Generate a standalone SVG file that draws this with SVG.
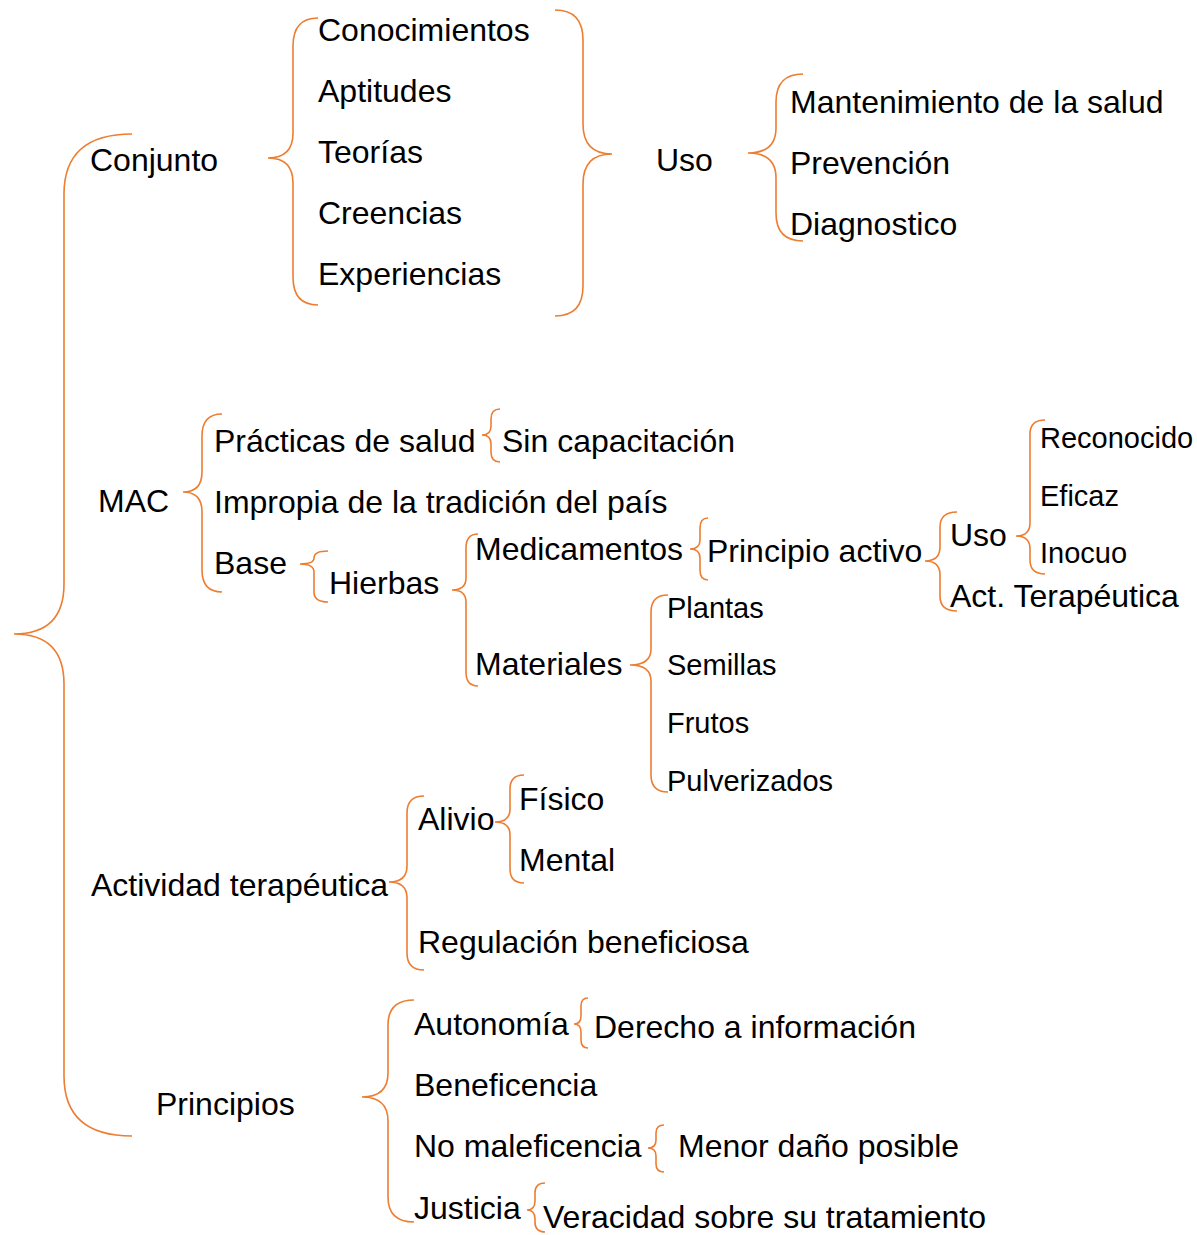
<svg xmlns="http://www.w3.org/2000/svg" width="1197" height="1235" viewBox="0 0 1197 1235">
<style>
text{font-family:"Liberation Sans",Arial,sans-serif;fill:#000;font-size:32px}
text.s{font-size:29px}
.b{fill:none;stroke:#ED7D31;stroke-width:1.6}
</style>
<rect width="1197" height="1235" fill="#fff"/>
<g id="connectors">
<path class="b" d="M132,134 Q64,134 64,194 L64,584 Q64,634 14,634 Q64,634 64,684 L64,1076 Q64,1136 132,1136"/>
<path class="b" d="M318,18 Q293,18 293,46 L293,133 Q293,158 268,158 Q293,158 293,183 L293,277 Q293,305 318,305"/>
<path class="b" d="M555,10 Q583,10 583,40 L583,124 Q583,154 612,154 Q583,154 583,184 L583,286 Q583,316 555,316"/>
<path class="b" d="M803,74 Q776,74 776,102 L776,128 Q776,153 748,153 Q776,153 776,178 L776,213 Q776,241 803,241"/>
<path class="b" d="M222,414 Q202,414 202,436 L202,472 Q202,492 183,492 Q202,492 202,512 L202,570 Q202,592 222,592"/>
<path class="b" d="M500,409 Q491,409 491,419 L491,426 Q491,435 482,435 Q491,435 491,444 L491,452 Q491,462 500,462"/>
<path class="b" d="M328,551 Q314,551 314,558 Q314,564 300,564 Q314,564 314,572 L314,592 Q314,602 328,602"/>
<path class="b" d="M478,534 Q466,534 466,548 L466,578 Q466,590 452,590 Q466,590 466,602 L466,672 Q466,686 478,686"/>
<path class="b" d="M708,518 Q700,518 700,528 L700,540 Q700,549 690,549 Q700,549 700,558 L700,570 Q700,580 708,580"/>
<path class="b" d="M957,512 Q940,512 940,527 L940,547 Q940,561 925,561 Q940,561 940,575 L940,596 Q940,611 957,611"/>
<path class="b" d="M1045,420 Q1030,420 1030,434 L1030,523 Q1030,536 1016,536 Q1030,536 1030,549 L1030,560 Q1030,574 1045,574"/>
<path class="b" d="M668,595 Q651,595 651,612 L651,649 Q651,665 630,665 Q651,665 651,681 L651,775 Q651,792 668,792"/>
<path class="b" d="M424,796 Q407,796 407,813 L407,866 Q407,882 389,882 Q407,882 407,898 L407,953 Q407,970 424,970"/>
<path class="b" d="M524,775 Q510,775 510,789 L510,809 Q510,822 495,822 Q510,822 510,835 L510,869 Q510,883 524,883"/>
<path class="b" d="M414,1000 Q388,1000 388,1025 L388,1073 Q388,1097 362,1097 Q388,1097 388,1121 L388,1197 Q388,1222 414,1222"/>
<path class="b" d="M588,998 Q581,998 581,1006 L581,1016 Q581,1024 574,1024 Q581,1024 581,1032 L581,1040 Q581,1048 588,1048"/>
<path class="b" d="M664,1125 Q656,1125 656,1133 L656,1140 Q656,1148 648,1148 Q656,1148 656,1156 L656,1164 Q656,1172 664,1172"/>
<path class="b" d="M545,1183 Q535,1183 535,1193 L535,1201 Q535,1210 527,1210 Q535,1210 535,1219 L535,1222 Q535,1232 545,1232"/>
</g>
<g id="n-conjunto"><text x="90" y="171">Conjunto</text></g>
<g id="n-conocimientos"><text x="318" y="41">Conocimientos</text></g>
<g id="n-aptitudes"><text x="318" y="102">Aptitudes</text></g>
<g id="n-teorias"><text x="318" y="163">Teorías</text></g>
<g id="n-creencias"><text x="318" y="224">Creencias</text></g>
<g id="n-experiencias"><text x="318" y="285">Experiencias</text></g>
<g id="n-uso1"><text x="656" y="171">Uso</text></g>
<g id="n-mantenimiento"><text x="790" y="113">Mantenimiento de la salud</text></g>
<g id="n-prevencion"><text x="790" y="174">Prevención</text></g>
<g id="n-diagnostico"><text x="790" y="235">Diagnostico</text></g>
<g id="n-mac"><text x="98" y="512">MAC</text></g>
<g id="n-practicas"><text x="214" y="452">Prácticas de salud</text></g>
<g id="n-sincap"><text x="502" y="452">Sin capacitación</text></g>
<g id="n-impropia"><text x="214" y="513">Impropia de la tradición del país</text></g>
<g id="n-base"><text x="214" y="574">Base</text></g>
<g id="n-hierbas"><text x="329" y="594">Hierbas</text></g>
<g id="n-medicamentos"><text x="475" y="560">Medicamentos</text></g>
<g id="n-materiales"><text x="475" y="675">Materiales</text></g>
<g id="n-principio"><text x="707" y="562">Principio activo</text></g>
<g id="n-uso2"><text x="950" y="546">Uso</text></g>
<g id="n-actter"><text x="950" y="607">Act. Terapéutica</text></g>
<g id="n-reconocido"><text class="s" x="1040" y="448">Reconocido</text></g>
<g id="n-eficaz"><text class="s" x="1040" y="506">Eficaz</text></g>
<g id="n-inocuo"><text class="s" x="1040" y="563">Inocuo</text></g>
<g id="n-plantas"><text class="s" x="667" y="618">Plantas</text></g>
<g id="n-semillas"><text class="s" x="667" y="675">Semillas</text></g>
<g id="n-frutos"><text class="s" x="667" y="733">Frutos</text></g>
<g id="n-pulverizados"><text class="s" x="667" y="791">Pulverizados</text></g>
<g id="n-actividad"><text x="91" y="896">Actividad terapéutica</text></g>
<g id="n-alivio"><text x="418" y="830">Alivio</text></g>
<g id="n-fisico"><text x="519" y="810">Físico</text></g>
<g id="n-mental"><text x="519" y="871">Mental</text></g>
<g id="n-regulacion"><text x="418" y="953">Regulación beneficiosa</text></g>
<g id="n-principios"><text x="156" y="1115">Principios</text></g>
<g id="n-autonomia"><text x="414" y="1035">Autonomía</text></g>
<g id="n-derecho"><text x="594" y="1038">Derecho a información</text></g>
<g id="n-beneficencia"><text x="414" y="1096">Beneficencia</text></g>
<g id="n-nomal"><text x="414" y="1157">No maleficencia</text></g>
<g id="n-menor"><text x="678" y="1157">Menor daño posible</text></g>
<g id="n-justicia"><text x="414" y="1219">Justicia</text></g>
<g id="n-veracidad"><text x="543" y="1228">Veracidad sobre su tratamiento</text></g>
</svg>
